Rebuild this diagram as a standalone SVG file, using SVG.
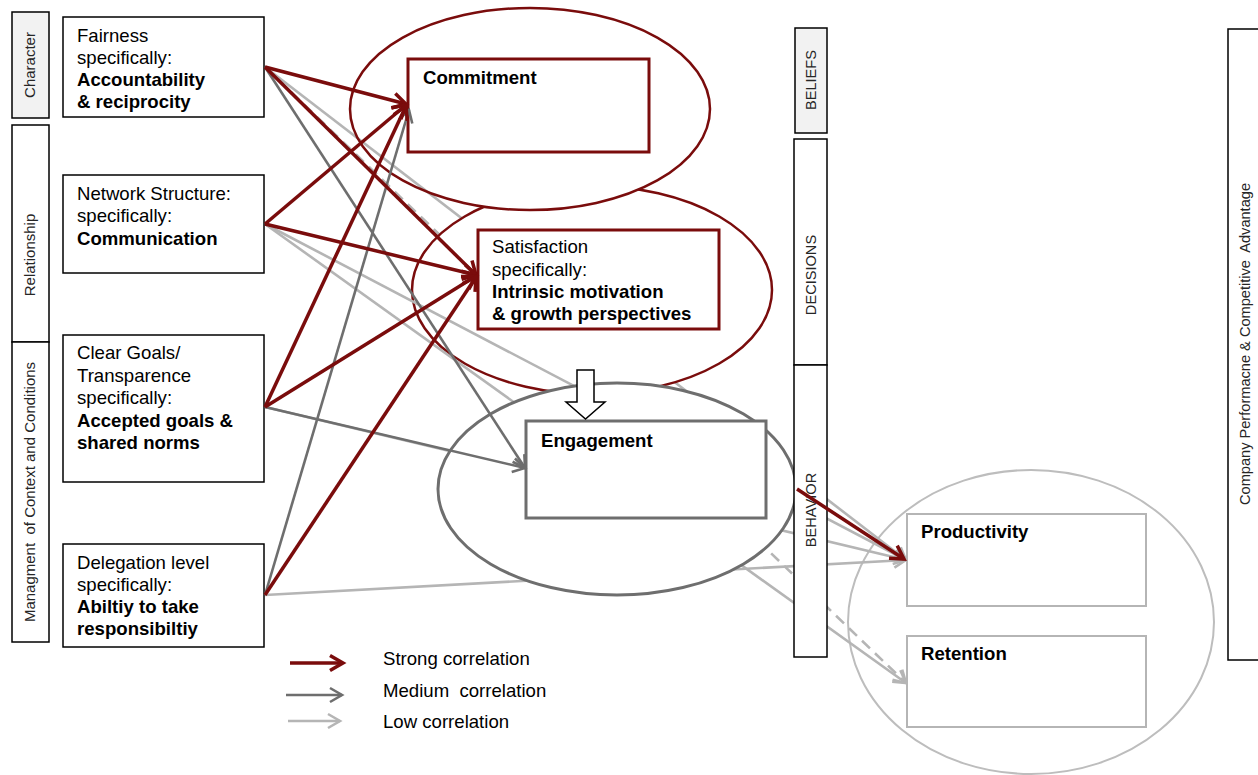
<svg xmlns="http://www.w3.org/2000/svg" width="1258" height="775" viewBox="0 0 1258 775">
  <style>
    text { font-family: "Liberation Sans", Arial, sans-serif; fill: #000; }
    .t { font-size: 18.6px; }
    .b { font-size: 18.6px; font-weight: bold; }
    .v { font-size: 14.6px; fill: #262626; text-anchor: middle; }
    .vl { font-size: 15px; fill: #262626; text-anchor: middle; }
    .leftbox { fill: #fff; stroke: #000; stroke-width: 1.5; }
    .bar { fill: #fff; stroke: #000; stroke-width: 1.5; }
    .bar-grey { fill: #f2f2f2; stroke: #000; stroke-width: 1.5; }
    .strong { stroke: #7a0c0c; stroke-width: 3.5; fill: none; marker-end: url(#ah-strong); }
    .medium { stroke: #6e6e6e; stroke-width: 2.6; fill: none; marker-end: url(#ah-medium); }
    .low { stroke: #b5b5b5; stroke-width: 2.6; fill: none; marker-end: url(#ah-low); }
    .dashed { stroke-dasharray: 11 7; }
  </style>
  <defs>
    <marker id="ah-strong" viewBox="-16 -10 21 20" markerWidth="21" markerHeight="20" refX="0" refY="0" orient="auto" markerUnits="userSpaceOnUse">
      <path d="M-13,-7.5 L0,0 L-13,7.5" fill="none" stroke="#7a0c0c" stroke-width="3.5"/>
    </marker>
    <marker id="ah-medium" viewBox="-16 -10 21 20" markerWidth="21" markerHeight="20" refX="0" refY="0" orient="auto" markerUnits="userSpaceOnUse">
      <path d="M-12,-7 L0,0 L-12,7" fill="none" stroke="#6e6e6e" stroke-width="2.6"/>
    </marker>
    <marker id="ah-low" viewBox="-16 -10 21 20" markerWidth="21" markerHeight="20" refX="0" refY="0" orient="auto" markerUnits="userSpaceOnUse">
      <path d="M-12,-7 L0,0 L-12,7" fill="none" stroke="#b5b5b5" stroke-width="2.6"/>
    </marker>
    <!-- hides the part of the satisfaction outline that lies behind the commitment ellipse -->
    <mask id="outside-commitment" maskUnits="userSpaceOnUse" x="0" y="0" width="1258" height="775">
      <rect x="0" y="0" width="1258" height="775" fill="#fff"/>
      <ellipse cx="530" cy="109" rx="180" ry="101" fill="#000"/>
    </mask>
  </defs>

  <rect x="0" y="0" width="1258" height="775" fill="#fff"/>

  <!-- outcome ellipse behind productivity / retention -->
  <g id="outcome-ellipse">
    <ellipse cx="1031" cy="622" rx="183" ry="152" fill="none" stroke="#bdbdbd" stroke-width="2"/>
  </g>

  <!-- low correlations running behind the satisfaction ellipse -->
  <g id="connectors-low-back">
    <line class="low" x1="265" y1="67" x2="906" y2="560"/>
    <line class="low dashed" x1="265" y1="67" x2="906" y2="683"/>
  </g>

  <g id="node-satisfaction">
    <ellipse cx="592" cy="290" rx="180" ry="104" fill="#fff"/>
    <ellipse cx="592" cy="290" rx="180" ry="104" fill="none" stroke="#7a0c0c" stroke-width="2.5" mask="url(#outside-commitment)"/>
    <rect x="478" y="230" width="241" height="99" fill="#fff" stroke="#7a0c0c" stroke-width="3"/>
    <text class="t" x="492" y="253">Satisfaction</text>
    <text class="t" x="492" y="276">specifically:</text>
    <text class="b" x="492" y="298">Intrinsic motivation</text>
    <text class="b" x="492" y="320">&amp; growth perspectives</text>
  </g>

  <g id="node-commitment">
    <ellipse cx="530" cy="109" rx="180" ry="101" fill="none" stroke="#7a0c0c" stroke-width="2.5"/>
    <rect x="408" y="59" width="241" height="93" fill="#fff" stroke="#7a0c0c" stroke-width="3"/>
    <text class="b" x="423" y="84">Commitment</text>
  </g>

  <!-- low correlations running behind the engagement ellipse -->
  <g id="connectors-low">
    <line class="low" x1="265" y1="224" x2="906" y2="560"/>
    <line class="low" x1="265" y1="224" x2="906" y2="683"/>
    <line class="low" x1="265" y1="407" x2="906" y2="560"/>
    <line class="low" x1="265" y1="595" x2="906" y2="560"/>
  </g>

  <g id="node-engagement">
    <ellipse cx="617" cy="489" rx="179" ry="106" fill="#fff" stroke="#6e6e6e" stroke-width="3"/>
    <rect x="526" y="421" width="240" height="97" fill="#fff" stroke="#6e6e6e" stroke-width="3"/>
    <text class="b" x="541" y="447">Engagement</text>
  </g>

  <!-- stage bars -->
  <g id="bar-beliefs">
    <rect class="bar-grey" x="795" y="28" width="32" height="105"/>
    <text class="v" transform="translate(816,80) rotate(-90)">BELIEFS</text>
  </g>
  <g id="bar-decisions">
    <rect class="bar" x="794" y="139" width="33" height="226"/>
    <text class="v" transform="translate(816,275) rotate(-90)">DECISIONS</text>
  </g>
  <g id="bar-behavior">
    <rect class="bar" x="794" y="365" width="33" height="292"/>
    <text class="v" transform="translate(816,510) rotate(-90)">BEHAVIOR</text>
  </g>
  <g id="bar-company">
    <rect class="bar" x="1228" y="29" width="40" height="631"/>
    <text class="v" transform="translate(1250,344) rotate(-90)" xml:space="preserve">Company Performacne &amp; Competitive  Advantage</text>
  </g>

  <!-- category bars on the left -->
  <g id="bar-character">
    <rect class="bar-grey" x="12" y="12" width="37" height="106"/>
    <text class="vl" transform="translate(35,65) rotate(-90)">Character</text>
  </g>
  <g id="bar-relationship">
    <rect class="bar" x="12" y="125" width="37" height="217"/>
    <text class="vl" transform="translate(35,255) rotate(-90)">Relationship</text>
  </g>
  <g id="bar-management">
    <rect class="bar" x="12" y="342" width="37" height="300"/>
    <text class="vl" transform="translate(35,492) rotate(-90)" xml:space="preserve">Managment  of Context and Conditions</text>
  </g>

  <!-- driver boxes -->
  <g id="node-fairness">
    <rect class="leftbox" x="63" y="17" width="201" height="100"/>
    <text class="t" x="77" y="42">Fairness</text>
    <text class="t" x="77" y="64">specifically:</text>
    <text class="b" x="77" y="86">Accountability</text>
    <text class="b" x="77" y="108">&amp; reciprocity</text>
  </g>
  <g id="node-network">
    <rect class="leftbox" x="63" y="175" width="201" height="98"/>
    <text class="t" x="77" y="200">Network Structure:</text>
    <text class="t" x="77" y="222">specifically:</text>
    <text class="b" x="77" y="245">Communication</text>
  </g>
  <g id="node-goals">
    <rect class="leftbox" x="63" y="335" width="201" height="147"/>
    <text class="t" x="77" y="359">Clear Goals/</text>
    <text class="t" x="77" y="382">Transparence</text>
    <text class="t" x="77" y="404">specifically:</text>
    <text class="b" x="77" y="427">Accepted goals &amp;</text>
    <text class="b" x="77" y="449">shared norms</text>
  </g>
  <g id="node-delegation">
    <rect class="leftbox" x="63" y="544" width="201" height="103"/>
    <text class="t" x="77" y="569">Delegation level</text>
    <text class="t" x="77" y="591">specifically:</text>
    <text class="b" x="77" y="613">Abiltiy to take</text>
    <text class="b" x="77" y="635">responsibiltiy</text>
  </g>

  <!-- outcomes -->
  <g id="node-productivity">
    <rect x="907" y="514" width="239" height="92" fill="#fff" stroke="#b5b5b5" stroke-width="2"/>
    <text class="b" x="921" y="538">Productivity</text>
  </g>
  <g id="node-retention">
    <rect x="907" y="636" width="239" height="91" fill="#fff" stroke="#b5b5b5" stroke-width="2"/>
    <text class="b" x="921" y="660">Retention</text>
  </g>

  <!-- strong and medium correlations -->
  <g id="connectors">
    <line class="medium" x1="265" y1="67" x2="525" y2="468"/>
    <line class="medium" x1="265" y1="407" x2="525" y2="468"/>
    <line class="medium" x1="265" y1="595" x2="409" y2="110"/>
    <line class="strong" x1="265" y1="67" x2="406" y2="104"/>
    <line class="strong" x1="265" y1="67" x2="476" y2="275"/>
    <line class="strong" x1="265" y1="224" x2="406" y2="105"/>
    <line class="strong" x1="265" y1="224" x2="476" y2="275"/>
    <line class="strong" x1="265" y1="407" x2="406" y2="106"/>
    <line class="strong" x1="265" y1="407" x2="476" y2="276"/>
    <line class="strong" x1="265" y1="595" x2="476" y2="277"/>
    <line class="strong" x1="797" y1="489" x2="904" y2="559"/>
  </g>

  <!-- transition from satisfaction into engagement -->
  <g id="block-arrow">
    <polygon points="577,370 594,370 594,402 605,402 585.5,419 566,402 577,402" fill="#fff" stroke="#000" stroke-width="1.5"/>
  </g>

  <g id="legend">
    <line class="strong" x1="290" y1="663" x2="343" y2="663"/>
    <line class="medium" x1="286" y1="695" x2="342" y2="695"/>
    <line class="low" x1="288" y1="721" x2="340" y2="721"/>
    <text class="t" x="383" y="665">Strong correlation</text>
    <text class="t" x="383" y="697" xml:space="preserve">Medium  correlation</text>
    <text class="t" x="383" y="728">Low correlation</text>
  </g>
</svg>
